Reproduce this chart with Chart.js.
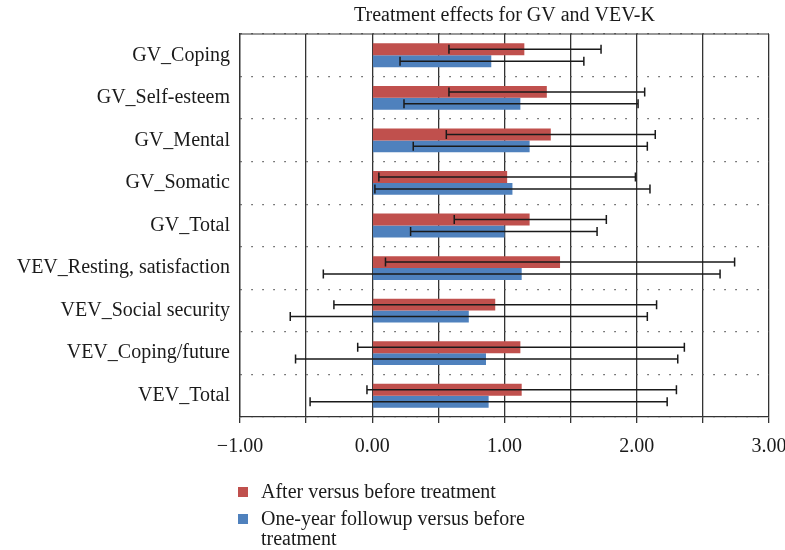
<!DOCTYPE html>
<html>
<head>
<meta charset="utf-8">
<script src="https://cdn.jsdelivr.net/npm/chart.js@4/dist/chart.umd.min.js"></script>
<style>
    html, body { margin: 0; padding: 0; background: #fff; }
    .wrap { position: relative; width: 785px; height: 550px; }
    #legend { position: absolute; left: 238px; top: 481px; font-family: "Liberation Serif", serif; font-size: 20px; color: #1a1a1a; }
    .legend-row { display: flex; align-items: flex-start; line-height: 20px; margin-bottom: 7px; }
    .legend-dot { width: 10px; height: 10px; margin: 6px 13px 0 0; flex: none; }
    .legend-text { max-width: 290px; }
</style>
</head>
<body>
<div class="wrap">
    <canvas id="chart" width="785" height="550"></canvas>
    <div id="legend"></div>
</div>
<script>
const categories = ['GV_Coping', 'GV_Self-esteem', 'GV_Mental', 'GV_Somatic', 'GV_Total',
    'VEV_Resting, satisfaction', 'VEV_Social security', 'VEV_Coping/future', 'VEV_Total'];

// after versus before treatment
const afterValues = [1.15, 1.32, 1.35, 1.02, 1.19, 1.42, 0.93, 1.12, 1.13];
const afterLow    = [0.58, 0.58, 0.56, 0.05, 0.62, 0.10, -0.29, -0.11, -0.04];
const afterHigh   = [1.73, 2.06, 2.14, 1.99, 1.77, 2.74, 2.15, 2.36, 2.30];

// one-year followup versus before treatment
const followValues = [0.90, 1.12, 1.19, 1.06, 1.00, 1.13, 0.73, 0.86, 0.88];
const followLow    = [0.21, 0.24, 0.31, 0.02, 0.29, -0.37, -0.62, -0.58, -0.47];
const followHigh   = [1.60, 2.01, 2.08, 2.10, 1.70, 2.63, 2.08, 2.31, 2.23];

const seriesNames = ['After versus before treatment', 'One-year followup versus before treatment'];
const colors = ['#C0504D', '#4F81BD'];
const serif = '"Liberation Serif", "Times New Roman", serif';

// ── Error bars + top frame ─────────────
const errorBars = {
    id: 'errorBars',
    afterDatasetsDraw(chart) {
        const { ctx, scales: { x } } = chart;
        ctx.save();
        ctx.strokeStyle = '#1a1a1a';
        ctx.lineWidth = 1.5;
        chart.data.datasets.forEach((ds, i) => {
            const meta = chart.getDatasetMeta(i);
            meta.data.forEach((bar, j) => {
                const x1 = x.getPixelForValue(ds.low[j]);
                const x2 = x.getPixelForValue(ds.high[j]);
                const y = bar.y;
                ctx.beginPath();
                ctx.moveTo(x1, y); ctx.lineTo(x2, y);
                ctx.moveTo(x1, y - 4.5); ctx.lineTo(x1, y + 4.5);
                ctx.moveTo(x2, y - 4.5); ctx.lineTo(x2, y + 4.5);
                ctx.stroke();
            });
        });
        const a = chart.chartArea;
        ctx.strokeStyle = '#333';
        ctx.lineWidth = 1.2;
        ctx.beginPath();
        ctx.moveTo(a.left, a.top); ctx.lineTo(a.right, a.top);
        ctx.stroke();
        ctx.restore();
    }
};

new Chart(document.getElementById('chart'), {
    type: 'bar',
    data: {
        labels: categories,
        datasets: [
            { label: seriesNames[0], data: afterValues, low: afterLow, high: afterHigh, backgroundColor: colors[0] },
            { label: seriesNames[1], data: followValues, low: followLow, high: followHigh, backgroundColor: colors[1] }
        ]
    },
    options: {
        indexAxis: 'y',
        responsive: false,
        animation: false,
        categoryPercentage: 0.56,
        barPercentage: 1.0,
        layout: { padding: { right: 16 } },
        plugins: {
            legend: { display: false },
            tooltip: { enabled: false },
            title: {
                display: true, fullSize: false,
                text: 'Treatment effects for GV and VEV-K',
                color: '#1a1a1a',
                font: { family: serif, size: 20, weight: 'normal' },
                padding: { top: 4, bottom: 6 }
            }
        },
        scales: {
            x: {
                min: -1, max: 3,
                afterFit: s => { s.height = 133; s.paddingLeft = 0; s.paddingRight = 0; },
                ticks: {
                    stepSize: 0.5, autoSkip: false, padding: 12, color: '#1a1a1a',
                    font: { family: serif, size: 20 },
                    callback: v => Number.isInteger(v) ? v.toFixed(2).replace('-', '\u2212') : ''
                },
                grid: { color: '#333', lineWidth: 1.3, tickLength: 6, tickColor: '#333' },
                border: { display: true, color: '#333', width: 1.3 }
            },
            y: {
                afterFit: s => { s.width = 240; },
                ticks: { color: '#1a1a1a', padding: 10, font: { family: serif, size: 20 } },
                grid: { color: '#555', lineWidth: 1.3, drawTicks: false },
                border: { display: true, color: '#333', width: 1.3, dash: [1.5, 9.5] }
            }
        }
    },
    plugins: [errorBars]
});

document.getElementById('legend').innerHTML = seriesNames.map((name, i) => `
    <div class="legend-row">
        <div class="legend-dot" style="background:${colors[i]}"></div>
        <div class="legend-text">${name}</div>
    </div>
`).join('');
</script>
</body>
</html>
